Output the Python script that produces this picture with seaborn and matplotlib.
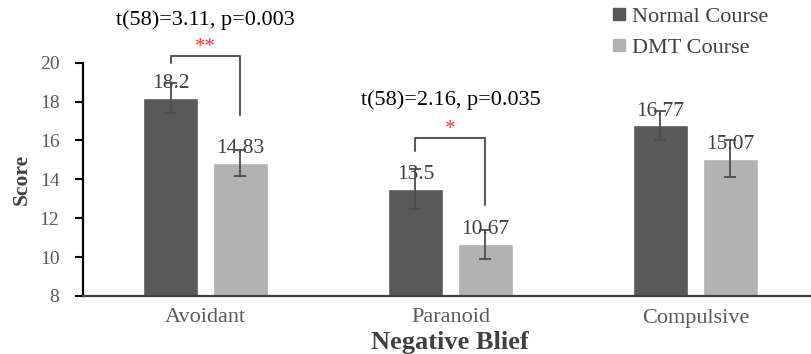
import matplotlib
matplotlib.use("Agg")
import matplotlib.pyplot as plt
from matplotlib.lines import Line2D
import seaborn as sns
import pandas as pd
import numpy as np

# ---- data ----
categories = ["Avoidant", "Paranoid", "Compulsive"]
groups = ["Normal Course", "DMT Course"]
normal_scores = [18.2, 13.5, 16.77]
dmt_scores = [14.83, 10.67, 15.07]
normal_err = [0.78, 1.05, 0.75]
dmt_err = [0.67, 0.75, 0.93]
value_labels_normal = ["18.2", "13.5", "16.77"]
value_labels_dmt = ["14.83", "10.67", "15.07"]
yticks = [8, 10, 12, 14, 16, 18, 20]

# significance annotations
sig_cats = [0, 1]
sig_texts = ["t(58)=3.11, p=0.003", "t(58)=2.16, p=0.035"]
sig_stars = ["**", "*"]
sig_top = [20.34, 16.15]
sig_left_end = [19.96, 15.44]
sig_right_end = [17.32, 12.7]
sig_text_y = [21.94, 17.83]
sig_star_y = [20.55, 16.35]

colors = ["#595959", "#b2b2b2"]

df = pd.DataFrame({
    "Category": categories * 2,
    "Group": [groups[0]] * 3 + [groups[1]] * 3,
    "Score": normal_scores + dmt_scores,
})

sns.set_style("white")
plt.rcParams["font.family"] = ["Liberation Serif", "DejaVu Serif"]

fig = plt.figure(figsize=(8.12, 3.54), dpi=100)
ax = fig.add_axes([83 / 812, (354 - 296) / 354, 1 - 83 / 812, (296 - 62.7) / 354])

sns.barplot(data=df, x="Category", y="Score", hue="Group", order=categories,
            hue_order=groups, palette=colors, width=0.571, gap=0.215,
            errorbar=None, ax=ax, legend=False, saturation=1)

ax.set_ylim(8, 20)
ax.set_xlim(-0.5, 2.476)
ax.set_yticks(yticks)

# bar positions from seaborn containers
conts = ax.containers
xs_normal = [p.get_x() + p.get_width() / 2 for p in conts[0].patches]
xs_dmt = [p.get_x() + p.get_width() / 2 for p in conts[1].patches]

errc = "#4d4d4d"
ax.errorbar(xs_normal, normal_scores, yerr=normal_err, fmt="none", ecolor=errc,
            elinewidth=1.3, capsize=4, capthick=1.3, zorder=4)
ax.errorbar(xs_dmt, dmt_scores, yerr=dmt_err, fmt="none", ecolor=errc,
            elinewidth=1.3, capsize=4, capthick=1.3, zorder=4)

for xs, vals, labs in [(xs_normal, normal_scores, value_labels_normal),
                       (xs_dmt, dmt_scores, value_labels_dmt)]:
    for x, v, l in zip(xs, vals, labs):
        ax.annotate(l, (x, v), xytext=(0, 7), textcoords="offset points",
                    ha="center", va="baseline", fontsize=15.5, color="#404040", zorder=3)

for i, c in enumerate(sig_cats):
    xl = xs_normal[c]
    xr = xs_dmt[c]
    ax.plot([xl, xl, xr, xr], [sig_left_end[i], sig_top[i], sig_top[i], sig_right_end[i]],
            color="#595959", lw=1.5, clip_on=False, zorder=5)
    ax.text((xl + xr) / 2, sig_text_y[i], sig_texts[i], ha="center", va="baseline",
            fontsize=16, color="black", clip_on=False)
    ax.text((xl + xr) / 2, sig_star_y[i], sig_stars[i], ha="center", va="baseline",
            fontsize=15, color="#ff3333", clip_on=False)

# axes styling
sns.despine(ax=ax, top=True, right=True)
ax.spines["left"].set_color("black")
ax.spines["left"].set_linewidth(1.6)
ax.spines["bottom"].set_color("#404040")
ax.spines["bottom"].set_linewidth(1.6)
ax.tick_params(axis="y", which="major", left=True, length=6, width=1.5, color="black",
               pad=11, labelsize=14, labelcolor="#595959")
ax.tick_params(axis="x", length=0, pad=9, labelsize=16, labelcolor="#595959")

ax.set_xlabel("Negative Blief", fontsize=19, fontweight="bold", color="#404040")
ax.xaxis.set_label_coords(0.503, -0.15)
ax.set_ylabel("Score", fontsize=15.5, fontweight="bold", color="#404040")
ax.yaxis.set_label_coords(-0.07, 0.5)

handles = [Line2D([0], [0], marker="s", linestyle="none", markersize=8,
                  markerfacecolor=c, markeredgecolor=c) for c in colors]
leg = fig.legend(handles, groups, loc="upper left", bbox_to_anchor=(612 / 812, 1 - 6 / 354),
                 frameon=False, fontsize=16, handlelength=0.6, handletextpad=0.3,
                 labelspacing=0.48, borderaxespad=0, borderpad=0)
for t in leg.get_texts():
    t.set_color("#404040")

fig.savefig("out.png", dpi=100)
